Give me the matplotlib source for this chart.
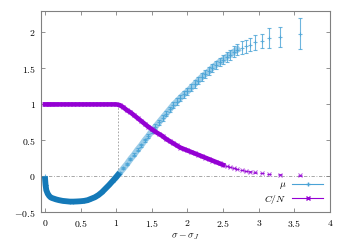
import matplotlib
matplotlib.use("Agg")
import matplotlib.pyplot as plt
import numpy as np
from matplotlib.ticker import FuncFormatter
from matplotlib.lines import Line2D

plt.rcParams['mathtext.fontset'] = 'cm'
plt.rcParams['font.family'] = 'serif'

# sigma - sigma_J
x = np.array([0.00, 0.01, 0.02, 0.04, 0.06, 0.08, 0.10, 0.13, 0.16, 0.20,
              0.25, 0.30, 0.35, 0.40, 0.45, 0.50, 0.55, 0.60, 0.65, 0.70,
              0.75, 0.80, 0.85, 0.90, 0.95, 1.00, 1.05, 1.10, 1.15, 1.20,
              1.25, 1.30, 1.35, 1.40, 1.45, 1.50, 1.55, 1.60, 1.65, 1.70,
              1.75, 1.80, 1.85, 1.90, 1.95, 2.00, 2.05, 2.10, 2.15, 2.20,
              2.25, 2.30, 2.35, 2.40, 2.45, 2.50, 2.55, 2.60, 2.65, 2.70,
              2.76, 2.82, 2.88, 2.95, 3.04, 3.15, 3.30, 3.58])

mu = np.array([0.00, -0.12, -0.19, -0.24, -0.27, -0.29, -0.30, -0.31, -0.32, -0.33,
               -0.34, -0.345, -0.35, -0.35, -0.348, -0.345, -0.34, -0.33, -0.31, -0.29,
               -0.26, -0.22, -0.17, -0.12, -0.065, -0.01, 0.05, 0.11, 0.17, 0.24,
               0.30, 0.37, 0.43, 0.50, 0.56, 0.63, 0.69, 0.75, 0.81, 0.87,
               0.93, 0.99, 1.04, 1.09, 1.14, 1.18, 1.23, 1.28, 1.33, 1.38,
               1.42, 1.46, 1.51, 1.55, 1.59, 1.62, 1.66, 1.69, 1.73, 1.76,
               1.79, 1.81, 1.83, 1.86, 1.88, 1.92, 1.94, 1.98])

mu_err = np.array([0.005, 0.005, 0.005, 0.005, 0.005, 0.005, 0.005, 0.005, 0.005, 0.005,
                   0.005, 0.005, 0.005, 0.005, 0.005, 0.005, 0.005, 0.005, 0.005, 0.005,
                   0.005, 0.005, 0.005, 0.005, 0.008, 0.01, 0.012, 0.014, 0.016, 0.018,
                   0.02, 0.022, 0.024, 0.026, 0.028, 0.03, 0.032, 0.034, 0.036, 0.038,
                   0.04, 0.042, 0.044, 0.046, 0.048, 0.05, 0.05, 0.052, 0.052, 0.054,
                   0.054, 0.056, 0.056, 0.058, 0.058, 0.06, 0.065, 0.07, 0.075, 0.08,
                   0.085, 0.09, 0.09, 0.10, 0.10, 0.14, 0.14, 0.215])

cn = np.array([1.00, 1.00, 1.00, 1.00, 1.00, 1.00, 1.00, 1.00, 1.00, 1.00,
               1.00, 1.00, 1.00, 1.00, 1.00, 1.00, 1.00, 1.00, 1.00, 1.00,
               1.00, 1.00, 1.00, 1.00, 1.00, 1.00, 0.99, 0.96, 0.92, 0.89,
               0.85, 0.81, 0.77, 0.73, 0.69, 0.655, 0.62, 0.59, 0.56, 0.52,
               0.49, 0.46, 0.43, 0.40, 0.38, 0.36, 0.34, 0.32, 0.30, 0.28,
               0.26, 0.24, 0.22, 0.20, 0.18, 0.16, 0.145, 0.13, 0.115, 0.10,
               0.09, 0.075, 0.065, 0.055, 0.045, 0.035, 0.025, 0.015])

cn_err = np.full(len(x), 0.004)

blue = '#1479b8'
light_blue = '#4aa3d6'
purple = '#9400d3'

fig = plt.figure(figsize=(3.5, 2.45), dpi=100)
ax = fig.add_axes([0.118, 0.133, 0.825, 0.823])

# guide lines
ax.axhline(0, color='#999999', lw=0.6, ls=(0, (4, 2, 1, 2)), zorder=1)
ax.plot([1.03, 1.03], [0, 1], color='#999999', lw=0.6, ls=(0, (2, 2)), zorder=1)

# mu: error bars, then a lighter band and a solid dense band on top
ax.errorbar(x, mu, yerr=mu_err, fmt='+', color=light_blue, ms=3, mew=0.8,
            elinewidth=0.8, capsize=1.5, capthick=0.8, alpha=0.8, zorder=3)
mid = (x >= 1.0) & (x <= 2.72)
ax.plot(x[mid], mu[mid], color=light_blue, lw=4.5, alpha=0.55, zorder=2)
dense = x <= 1.05
ax.plot(x[dense], mu[dense], color=blue, lw=4.2, solid_capstyle='butt', zorder=4)

# C/N
ax.errorbar(x, cn, yerr=cn_err, fmt='x', color=purple, ms=2.5, mew=0.7,
            elinewidth=0.6, capsize=1.2, alpha=0.7, zorder=5)
cdense = x <= 2.5
ax.plot(x[cdense], cn[cdense], color=purple, lw=3.3, zorder=6)

ax.set_xlim(-0.05, 4)
ax.set_ylim(-0.5, 2.3)
ax.set_xticks(np.arange(0, 4.01, 0.5))
ax.set_yticks(np.arange(-0.5, 2.01, 0.5))
fmt = FuncFormatter(lambda v, p: '$%g$' % v)
ax.xaxis.set_major_formatter(fmt)
ax.yaxis.set_major_formatter(fmt)
ax.tick_params(direction='in', top=True, right=True, length=3, width=0.6,
               color='#808080', labelsize=7, pad=4)
for s in ax.spines.values():
    s.set_color('#808080')
    s.set_linewidth(0.8)

ax.set_xlabel(r'$\sigma - \sigma_J$', fontsize=7, labelpad=2)

handles = [Line2D([], [], color=light_blue, marker='+', ms=3, lw=0.8),
           Line2D([], [], color=purple, marker='x', ms=2.5, lw=0.8)]
ax.legend(handles, [r'$\mu$', r'$C/N$'], loc='lower right', frameon=False,
          markerfirst=False, fontsize=7, handlelength=3.2, handletextpad=0.6,
          labelspacing=0.15, borderaxespad=0.3)

fig.savefig('out.png', dpi=100)
